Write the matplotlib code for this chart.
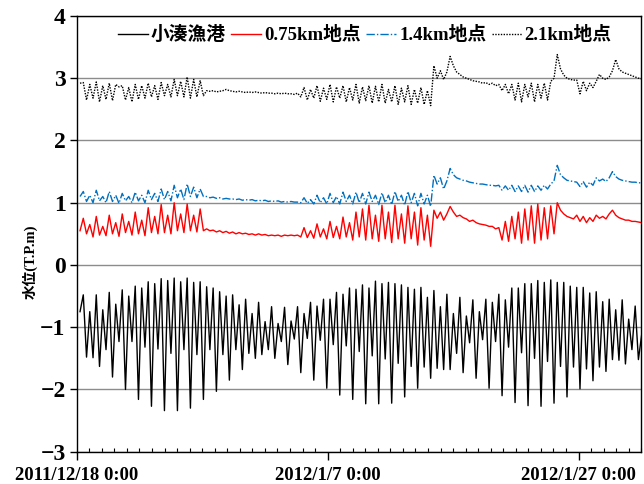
import matplotlib
matplotlib.use('Agg')
import matplotlib.pyplot as plt
import matplotlib.dates as mdates
from matplotlib.ticker import FixedLocator, FuncFormatter, MultipleLocator
import numpy as np
import datetime as dt

# ── Data (turning points, ~6.2 h apart) ───────────────────────────────────────
T_START = dt.datetime(2011, 12, 18, 6, 23)
STEP_H = 6.21

# 小湊漁港 (tide at the harbour)
kominato = [
    -0.75,
    -0.48, -1.48, -0.75, -1.49, -0.48, -1.63, -0.72, -1.36, -0.44, -1.80,
    -0.63, -1.23, -0.40, -2.00, -0.50, -1.23, -0.34, -2.16, -0.37, -1.32,
    -0.27, -2.27, -0.30, -1.35, -0.22, -2.34, -0.25, -1.42, -0.21, -2.34,
    -0.27, -1.36, -0.21, -2.30, -0.28, -1.44, -0.27, -2.16, -0.35, -1.36,
    -0.37, -2.03, -0.43, -1.44, -0.50, -1.85, -0.48, -1.36, -0.64, -1.68,
    -0.55, -1.42, -0.78, -1.50, -0.60, -1.44, -0.91, -1.36,
    -0.67, -1.50, -0.94, -1.23, -0.68, -1.60, -0.90, -1.19, -0.67, -1.73,
    -0.78, -1.18, -0.60, -1.85, -0.66, -1.21, -0.55, -1.98, -0.55, -1.28,
    -0.44, -2.09, -0.47, -1.30, -0.37, -2.16, -0.39, -1.39, -0.32, -2.23,
    -0.37, -1.46, -0.26, -2.23, -0.30, -1.51, -0.28, -2.22, -0.30, -1.58,
    -0.32, -2.12, -0.36, -1.63, -0.39, -1.98, -0.36, -1.64, -0.52, -1.82,
    -0.41, -1.66, -0.67, -1.68, -0.47, -1.68,
    -0.78, -1.42, -0.52, -1.73, -0.82, -1.25, -0.56, -1.82, -0.75, -1.20,
    -0.55, -1.98, -0.60, -1.23, -0.47, -2.10, -0.56, -1.32, -0.37, -2.21,
    -0.37, -1.41, -0.30, -2.26, -0.30, -1.50, -0.25, -2.27, -0.28, -1.55,
    -0.24, -2.22, -0.28, -1.63, -0.28, -2.12, -0.34, -1.64, -0.36, -1.99,
    -0.36, -1.67, -0.45, -1.86, -0.43, -1.64, -0.59, -1.71, -0.55, -1.52,
    -0.72, -1.53, -0.56, -1.59, -0.87, -1.36, -0.66, -1.52,
    -1.12,
]

# 0.75km地点
st_075 = [
    0.55,
    0.75, 0.50, 0.65, 0.45, 0.78, 0.48, 0.62, 0.47, 0.80, 0.50,
    0.68, 0.46, 0.82, 0.52, 0.70, 0.48, 0.85, 0.50, 0.72, 0.47,
    0.92, 0.52, 0.78, 0.50, 0.97, 0.52, 0.80, 0.50, 1.00, 0.55,
    0.82, 0.52, 0.98, 0.55, 0.80, 0.53, 0.90, 0.55,
    0.58, 0.55, 0.56, 0.53, 0.55, 0.52, 0.54, 0.51, 0.53, 0.50,
    0.52, 0.50, 0.51, 0.49, 0.50, 0.48, 0.50, 0.48, 0.49, 0.47,
    0.48, 0.47, 0.48, 0.46, 0.48, 0.47, 0.48, 0.47, 0.48,
    0.45, 0.60, 0.44, 0.55, 0.43, 0.66, 0.45, 0.58, 0.42, 0.70,
    0.44, 0.62, 0.42, 0.77, 0.45, 0.68, 0.40, 0.85, 0.45, 0.90,
    0.40, 0.96, 0.42, 0.80, 0.38, 0.96, 0.42, 0.85, 0.36, 0.96,
    0.42, 0.82, 0.35, 0.95, 0.42, 0.85, 0.32, 0.92, 0.40, 0.80, 0.30,
    0.88, 0.75, 0.85, 0.72, 0.82, 0.94, 0.85, 0.78, 0.80, 0.76,
    0.74, 0.70, 0.72, 0.68, 0.66, 0.65, 0.64, 0.62, 0.62, 0.58,
    0.60, 0.40, 0.70, 0.38, 0.78, 0.42, 0.85, 0.35, 0.90, 0.40,
    0.95, 0.35, 0.98, 0.40, 0.92, 0.42, 0.95, 0.50,
    1.00, 0.88, 0.82, 0.78, 0.76, 0.74, 0.80, 0.70, 0.78, 0.68,
    0.76, 0.70, 0.80, 0.75, 0.78, 0.74, 0.82, 0.88, 0.80, 0.76,
    0.74, 0.72, 0.72, 0.70, 0.70, 0.69, 0.68,
]

# 1.4km地点
st_14 = [
    1.10,
    1.18, 1.02, 1.12, 1.00, 1.20, 1.03, 1.10, 1.00, 1.18, 1.02,
    1.12, 0.99, 1.15, 1.03, 1.10, 1.00, 1.17, 1.03, 1.12, 1.00,
    1.20, 1.05, 1.15, 1.02, 1.22, 1.05, 1.18, 1.03, 1.28, 1.08,
    1.22, 1.05, 1.30, 1.10, 1.25, 1.08, 1.22, 1.10,
    1.10, 1.08, 1.09, 1.07, 1.08, 1.06, 1.07, 1.06, 1.06, 1.05,
    1.06, 1.04, 1.05, 1.04, 1.05, 1.03, 1.04, 1.03, 1.04, 1.02,
    1.03, 1.02, 1.03, 1.01, 1.02, 1.01, 1.02, 1.01, 1.01,
    1.00, 1.08, 0.99, 1.05, 0.98, 1.12, 1.00, 1.08, 0.98, 1.15,
    1.00, 1.10, 0.98, 1.17, 1.02, 1.12, 0.98, 1.17, 1.00, 1.15,
    0.98, 1.17, 1.02, 1.12, 0.97, 1.16, 1.00, 1.12, 0.97, 1.18,
    1.02, 1.12, 0.96, 1.18, 1.00, 1.15, 0.95, 1.15, 0.98, 1.12, 0.94,
    1.44, 1.30, 1.40, 1.22, 1.35, 1.55, 1.45, 1.40, 1.38, 1.36,
    1.35, 1.33, 1.32, 1.31, 1.30, 1.30, 1.29, 1.28, 1.28, 1.27,
    1.28, 1.20, 1.27, 1.20, 1.28, 1.18, 1.27, 1.18, 1.28, 1.17,
    1.28, 1.18, 1.27, 1.20, 1.28, 1.22, 1.30, 1.35,
    1.60, 1.45, 1.40, 1.36, 1.35, 1.34, 1.33, 1.26, 1.34, 1.25,
    1.33, 1.28, 1.40, 1.35, 1.38, 1.34, 1.40, 1.50, 1.42, 1.38,
    1.36, 1.35, 1.34, 1.33, 1.33, 1.32, 1.32,
]

# 2.1km地点
st_21 = [
    2.92,
    2.93, 2.65, 2.90, 2.68, 2.94, 2.62, 2.88, 2.66, 2.92, 2.64,
    2.90, 2.86, 2.88, 2.65, 2.85, 2.62, 2.90, 2.66, 2.88, 2.68,
    2.92, 2.70, 2.88, 2.66, 2.93, 2.72, 2.90, 2.70, 2.98, 2.72,
    2.95, 2.70, 3.02, 2.68, 2.98, 2.70, 2.96, 2.72,
    2.80, 2.79, 2.80, 2.78, 2.79, 2.80, 2.82, 2.80, 2.79, 2.78,
    2.79, 2.78, 2.77, 2.78, 2.77, 2.78, 2.77, 2.76, 2.77, 2.76,
    2.76, 2.75, 2.76, 2.75, 2.76, 2.75, 2.75, 2.74, 2.76,
    2.70, 2.85, 2.65, 2.82, 2.68, 2.88, 2.63, 2.84, 2.66, 2.90,
    2.62, 2.86, 2.68, 2.88, 2.62, 2.85, 2.65, 2.90, 2.60, 2.86,
    2.64, 2.88, 2.60, 2.87, 2.62, 2.90, 2.60, 2.82, 2.62, 2.88,
    2.58, 2.84, 2.62, 2.88, 2.58, 2.82, 2.60, 2.85, 2.58, 2.80, 2.56,
    3.20, 3.00, 3.12, 2.98, 3.10, 3.35, 3.20, 3.10, 3.06, 3.02,
    3.00, 2.98, 2.96, 2.95, 2.94, 2.92, 2.93, 2.90, 2.92, 2.88,
    2.90, 2.80, 2.90, 2.75, 2.90, 2.65, 2.92, 2.62, 2.90, 2.70,
    2.92, 2.62, 2.90, 2.68, 2.92, 2.65, 2.95, 3.00,
    3.38, 3.15, 3.05, 3.00, 2.98, 2.97, 2.97, 2.75, 2.95, 2.80,
    2.92, 2.85, 2.95, 3.06, 3.00, 2.98, 3.02, 3.12, 3.30, 3.15,
    3.10, 3.08, 3.06, 3.04, 3.02, 3.00, 2.99,
]

labels = ['小湊漁港', '0.75km地点', '1.4km地点', '2.1km地点']
major_days = [dt.datetime(2011, 12, 18), dt.datetime(2012, 1, 7), dt.datetime(2012, 1, 27)]

# ── Plot ──────────────────────────────────────────────────────────────────────
FAM = ['Liberation Serif', 'Noto Sans CJK JP']
plt.rcParams['font.family'] = FAM
plt.rcParams['font.weight'] = 'bold'

times = [T_START + dt.timedelta(hours=STEP_H * i) for i in range(len(kominato))]

fig = plt.figure(figsize=(6.44, 4.84), dpi=100)
ax = fig.add_axes([0.1191, 0.0667, 0.8767, 0.9003])

ax.plot(times, kominato, color='black', lw=1.0, label=labels[0], zorder=4)
ax.plot(times, st_075, color='#FF0000', lw=1.0, label=labels[1], zorder=3)
ax.plot(times, st_14, color='#0070C0', lw=1.0, ls=(0, (6, 1.5, 1, 1.5)), label=labels[2], zorder=3)
ax.plot(times, st_21, color='black', lw=1.0, ls=(0, (1, 1)), label=labels[3], zorder=3)

ax.set_ylim(-3, 4)
ax.set_xlim(dt.datetime(2011, 12, 18), dt.datetime(2012, 2, 1))
ax.yaxis.set_major_locator(MultipleLocator(1))
ax.grid(axis='y', color='#8c8c8c', lw=1.0)
ax.set_axisbelow(True)

ax.xaxis.set_major_locator(FixedLocator(mdates.date2num(major_days)))
ax.xaxis.set_minor_locator(mdates.DayLocator(interval=1))


def fmt_date(x, pos):
    d = mdates.num2date(x)
    return f'{d.year}/{d.month}/{d.day} {d.hour}:{d.minute:02d}'


ax.xaxis.set_major_formatter(FuncFormatter(fmt_date))
ax.tick_params(axis='x', which='major', direction='out', length=6, width=1,
               labelsize=13.5, pad=5)
ax.tick_params(axis='x', which='minor', direction='in', length=3, width=0.8)
ax.tick_params(axis='y', which='major', direction='out', length=5, width=1,
               labelsize=17, pad=3)
for lab in ax.get_xticklabels() + ax.get_yticklabels():
    lab.set_fontweight('bold')

for s in ax.spines.values():
    s.set_color('black')
    s.set_linewidth(1.0)

fig.text(30 / 644, 1 - 262 / 484, '水位(T.P.m)', rotation=90, ha='center', va='center',
         fontsize=10.5, fontweight='bold', family=FAM)

leg = ax.legend(loc='upper center', bbox_to_anchor=(0.51, 1.015), ncol=4, frameon=False,
                handlelength=1.6, handletextpad=0.15, columnspacing=0.3,
                prop={'family': FAM, 'weight': 'bold', 'size': 13.5})
for h in leg.get_lines():
    h.set_linewidth(1.0)

fig.savefig('out.png', dpi=100)
